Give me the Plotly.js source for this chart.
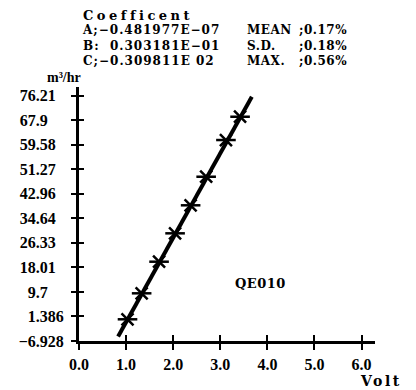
<!DOCTYPE html>
<html>
<head>
<meta charset="utf-8">
<script src="https://cdn.plot.ly/plotly-3.0.1.min.js"></script>
<style>
  html, body { margin: 0; padding: 0; background: #fff; }
  #chart { width: 416px; height: 390px; }
</style>
</head>
<body>
<div id="chart"></div>
<script>
// Calibration points (voltage vs flow) and the fitted line
const voltage = [1.03, 1.33, 1.70, 2.04, 2.37, 2.70, 3.12, 3.42];
const flow = [0.42, 9.22, 19.93, 29.54, 39.03, 48.71, 61.14, 69.03];
const fitVoltage = [0.83, 3.67];
const fitFlow = [-5.40, 75.80];

// Axis ticks
const xTickVals = [0, 1, 2, 3, 4, 5, 6];
const xTickText = ['0.0', '1.0', '2.0', '3.0', '4.0', '5.0', '6.0'];
const yTickVals = [-6.928, 1.386, 9.7, 18.01, 26.33, 34.64, 42.96, 51.27, 59.58, 67.9, 76.21];
const yTickText = ['\u22126.928', '1.386', '9.7', '18.01', '26.33', '34.64', '42.96', '51.27', '59.58', '67.9', '76.21'];

// Header text
const coefTitle = 'Coefficent';
const coefLines = ['A;\u22120.481977E\u221207', 'B:  0.303181E\u221201', 'C;\u22120.309811E 02'];
const statNames = ['MEAN', 'S.D.', 'MAX.'];
const statValues = [';0.17%', ';0.18%', ';0.56%'];
const sensorName = 'QE010';
const yUnit = 'm\u00b3/hr';
const xUnit = 'Volt';

const W = 416, H = 390;
const M = { l: 79, r: 41, t: 87, b: 49 };
const xRange = [0, 6.285];
const yRange = [-6.928, 79.1];

const SERIF = 'Liberation Serif, Times New Roman, serif';
const WIDE = 'DejaVu Serif, serif';
const TICK = { family: SERIF, size: 16, color: '#000', weight: 'bold' };
const HEAD = { family: WIDE, size: 12, color: '#000', weight: 'bold' };

// decimal-aligned y tick labels: pad fractional part to 3 places with figure spaces
const yTickPadded = yTickText.map(t => {
  const frac = t.includes('.') ? t.split('.')[1].length : 0;
  return t + '\u2007'.repeat(3 - frac);
});

// pixel -> paper helpers for text placement
const px = x => (x - M.l) / (W - M.l - M.r);
const py = y => (H - M.b - y) / (H - M.t - M.b);
const spaced = (t, s) => '<span style="letter-spacing:' + s + 'px">' + t + '</span>';

const note = (text, x, y, font, xanchor, yanchor) => ({
  text: text, xref: 'paper', yref: 'paper', x: px(x), y: py(y),
  xanchor: xanchor, yanchor: yanchor, showarrow: false, align: 'left', font: font
});

const annotations = [
  note(spaced(coefTitle, 3.5), 81, 15, Object.assign({}, HEAD, { size: 13 }), 'left', 'middle'),
  note(spaced(coefLines.join('<br>'), 1), 80, 21, HEAD, 'left', 'top'),
  note(spaced(statNames.join('<br>'), 0.5), 245, 21, HEAD, 'left', 'top'),
  note(spaced(statValues.join('<br>'), 0.5), 297, 21, HEAD, 'left', 'top'),
  note(yUnit, 64, 77, Object.assign({}, TICK, { size: 14 }), 'center', 'middle'),
  note(spaced(xUnit, 2.5), 381, 381, Object.assign({}, HEAD, { size: 14 }), 'center', 'middle'),
  note(spaced(sensorName, 0.5), 260, 283, Object.assign({}, HEAD, { size: 13 }), 'center', 'middle')
];

const traces = [
  { x: fitVoltage, y: fitFlow, xaxis: 'x2', yaxis: 'y2', mode: 'lines',
    line: { color: '#000', width: 4 }, hoverinfo: 'skip' },
  { x: voltage, y: flow, mode: 'markers',
    marker: { symbol: 'x-thin-open', size: 12, color: '#000', line: { color: '#000', width: 2.5 } } },
  { x: voltage, y: flow, mode: 'markers',
    marker: { symbol: 'line-ew-open', size: 14, color: '#000', line: { color: '#000', width: 2.5 } } }
];

const axisBase = {
  showgrid: false, zeroline: false, showline: true, linecolor: '#000',
  tickcolor: '#000', ticklen: 6, tickwidth: 2, tickmode: 'array', fixedrange: true
};

const layout = {
  width: W, height: H,
  margin: { l: M.l, r: M.r, t: M.t, b: M.b, pad: 0 },
  paper_bgcolor: '#fff', plot_bgcolor: '#fff',
  showlegend: false,
  xaxis: Object.assign({}, axisBase, {
    range: xRange, tickvals: xTickVals, ticktext: xTickText, ticks: 'outside',
    linewidth: 2.5, tickfont: TICK, ticklabelstandoff: 1
  }),
  yaxis: Object.assign({}, axisBase, {
    range: yRange, tickvals: yTickVals, ticktext: yTickPadded, ticks: 'outside',
    linewidth: 3, ticklen: 5, tickfont: TICK, ticklabelstandoff: 4
  }),
  xaxis2: Object.assign({}, axisBase, {
    range: xRange, tickvals: xTickVals, ticks: 'inside', showticklabels: false,
    overlaying: 'x', anchor: 'y2', linewidth: 2.5
  }),
  yaxis2: Object.assign({}, axisBase, {
    range: yRange, tickvals: yTickVals, ticks: 'inside', ticklen: 5, showticklabels: false,
    overlaying: 'y', anchor: 'x2', side: 'left', linewidth: 3
  }),
  annotations: annotations
};

Plotly.newPlot('chart', traces, layout, { staticPlot: true, displayModeBar: false });
</script>
</body>
</html>
